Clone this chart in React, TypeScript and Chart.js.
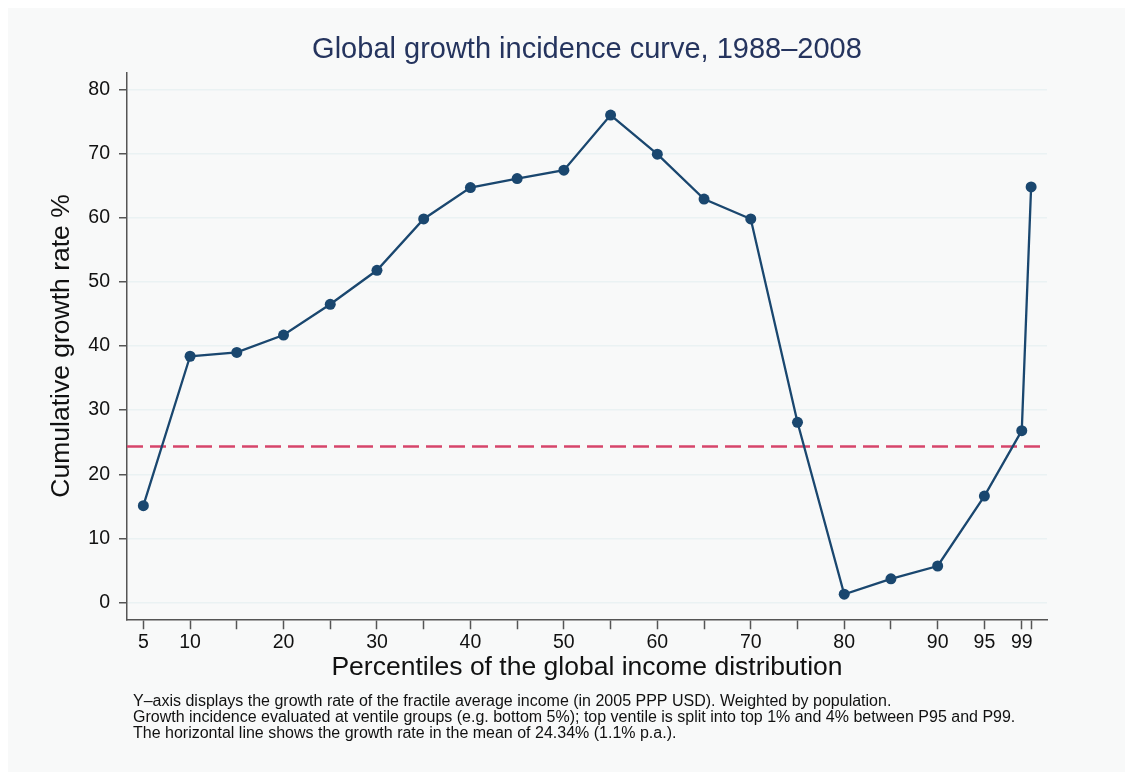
import React, { useEffect, useRef } from "react";
import { Chart, registerables } from "chart.js";

Chart.register(...registerables);

const percentiles = [5, 10, 15, 20, 25, 30, 35, 40, 45, 50, 55, 60, 65, 70, 75, 80, 85, 90, 95, 99, 100];
const growthRate = [15.1, 38.4, 39.0, 41.7, 46.5, 51.8, 59.8, 64.7, 66.1, 67.4, 76.0, 69.9, 62.9, 59.8, 28.1, 1.3, 3.7, 5.7, 16.6, 26.8, 64.8];
const meanGrowth = 24.34;
const xTickValues = [5, 10, 15, 20, 25, 30, 35, 40, 45, 50, 55, 60, 65, 70, 75, 80, 85, 90, 95, 99, 100];
const xLabelled = [5, 10, 20, 30, 40, 50, 60, 70, 80, 90, 95, 99];
const yTickValues = [0, 10, 20, 30, 40, 50, 60, 70, 80];
const X_MIN = 3.25;
const X_MAX = 101.7;
const Y_MIN = -2.6;
const Y_MAX = 82.6;

const titleText = "Global growth incidence curve, 1988\u20132008";
const xTitle = "Percentiles of the global income distribution";
const yTitle = "Cumulative growth rate %";
const notes = [
  "Y\u2013axis displays the growth rate of the fractile average income (in 2005 PPP USD). Weighted by population.",
  "Growth incidence evaluated at ventile groups (e.g. bottom 5%); top ventile is split into top 1% and 4% between P95 and P99.",
  "The horizontal line shows the growth rate in the mean of 24.34% (1.1% p.a.).",
];

const FONT = "'Liberation Sans', Arial, Helvetica, sans-serif";

const bgPlugin = {
  id: "bgFill",
  beforeDraw(chart: any) {
    const { ctx, width, height } = chart;
    ctx.save();
    ctx.fillStyle = "#f8f9f9";
    ctx.fillRect(0, 0, width, height);
    ctx.restore();
  },
};

const textPlugin = {
  id: "texts",
  afterDraw(chart: any) {
    const { ctx, chartArea } = chart;
    ctx.save();
    // title centred over the plot region
    ctx.fillStyle = "#25345e";
    ctx.font = `29px ${FONT}`;
    ctx.textBaseline = "middle";
    ctx.textAlign = "center";
    ctx.fillText(titleText, (chartArea.left + chartArea.right) / 2, 42);
    // notes
    ctx.fillStyle = "#111";
    ctx.font = `16px ${FONT}`;
    ctx.textAlign = "left";
    notes.forEach((line, i) => {
      ctx.fillText(line, 125, 694 + i * 15.7);
    });
    ctx.restore();
  },
};

export default function App() {
  const ref = useRef<HTMLCanvasElement | null>(null);

  useEffect(() => {
    document.body.style.background = "#ffffff";
    const canvas = ref.current!;
    const chart = new Chart(canvas, {
      type: "line",
      data: {
        datasets: [
          {
            label: "growth",
            data: percentiles.map((p, i) => ({ x: p, y: growthRate[i] })),
            borderColor: "#1a476f",
            backgroundColor: "#1a476f",
            borderWidth: 2.3,
            pointRadius: 5.5,
            pointHoverRadius: 5.5,
            pointBorderWidth: 0,
            tension: 0,
          },
          {
            label: "mean",
            data: [
              { x: X_MIN, y: meanGrowth },
              { x: X_MAX, y: meanGrowth },
            ],
            borderColor: "#d6456b",
            borderWidth: 2.5,
            borderDash: [16, 7],
            pointRadius: 0,
            tension: 0,
          },
        ],
      },
      options: {
        animation: false,
        responsive: false,
        maintainAspectRatio: false,
        layout: { padding: { left: 0, right: 86, top: 64.7, bottom: 90.75 } },
        plugins: {
          legend: { display: false },
          tooltip: { enabled: false },
          title: { display: false },
        },
        scales: {
          x: {
            type: "linear",
            min: X_MIN,
            max: X_MAX,
            afterBuildTicks(scale: any) {
              scale.ticks = xTickValues.map((v) => ({ value: v }));
            },
            afterFit(scale: any) {
              scale.height = 62;
            },
            ticks: {
              autoSkip: false,
              maxRotation: 0,
              padding: 2,
              color: "#111",
              font: { family: FONT, size: 19.5 },
              callback: (v: any) => (xLabelled.includes(Number(v)) ? String(v) : ""),
            },
            grid: {
              drawOnChartArea: false,
              drawTicks: true,
              tickLength: 10,
              tickColor: "#555",
              tickWidth: 1.5,
            },
            border: { display: true, color: "#555", width: 1.5 },
            title: {
              display: true,
              text: xTitle,
              color: "#111",
              font: { family: FONT, size: 26.5, lineHeight: 1 },
              padding: { top: 0, bottom: 0 },
            },
          },
          y: {
            type: "linear",
            min: Y_MIN,
            max: Y_MAX,
            afterBuildTicks(scale: any) {
              scale.ticks = yTickValues.map((v) => ({ value: v }));
            },
            afterFit(scale: any) {
              scale.width = 119;
            },
            ticks: {
              padding: 9,
              color: "#111",
              font: { family: FONT, size: 19.5 },
            },
            grid: {
              color: "#eaf2f3",
              lineWidth: 1.5,
              drawTicks: true,
              tickLength: 8,
              tickColor: "#555",
              tickWidth: 1.5,
            },
            border: { display: true, color: "#555", width: 1.5 },
            title: {
              display: true,
              text: yTitle,
              color: "#111",
              font: { family: FONT, size: 26.5, lineHeight: 1 },
              padding: { top: 40, bottom: 0 },
            },
          },
        },
      },
      plugins: [bgPlugin, textPlugin],
    });
    return () => chart.destroy();
  }, []);

  return (
    <div style={{ width: 1125, height: 764 }}>
      <canvas ref={ref} width={1125} height={764} style={{ display: "block", width: 1125, height: 764 }} />
    </div>
  );
}
